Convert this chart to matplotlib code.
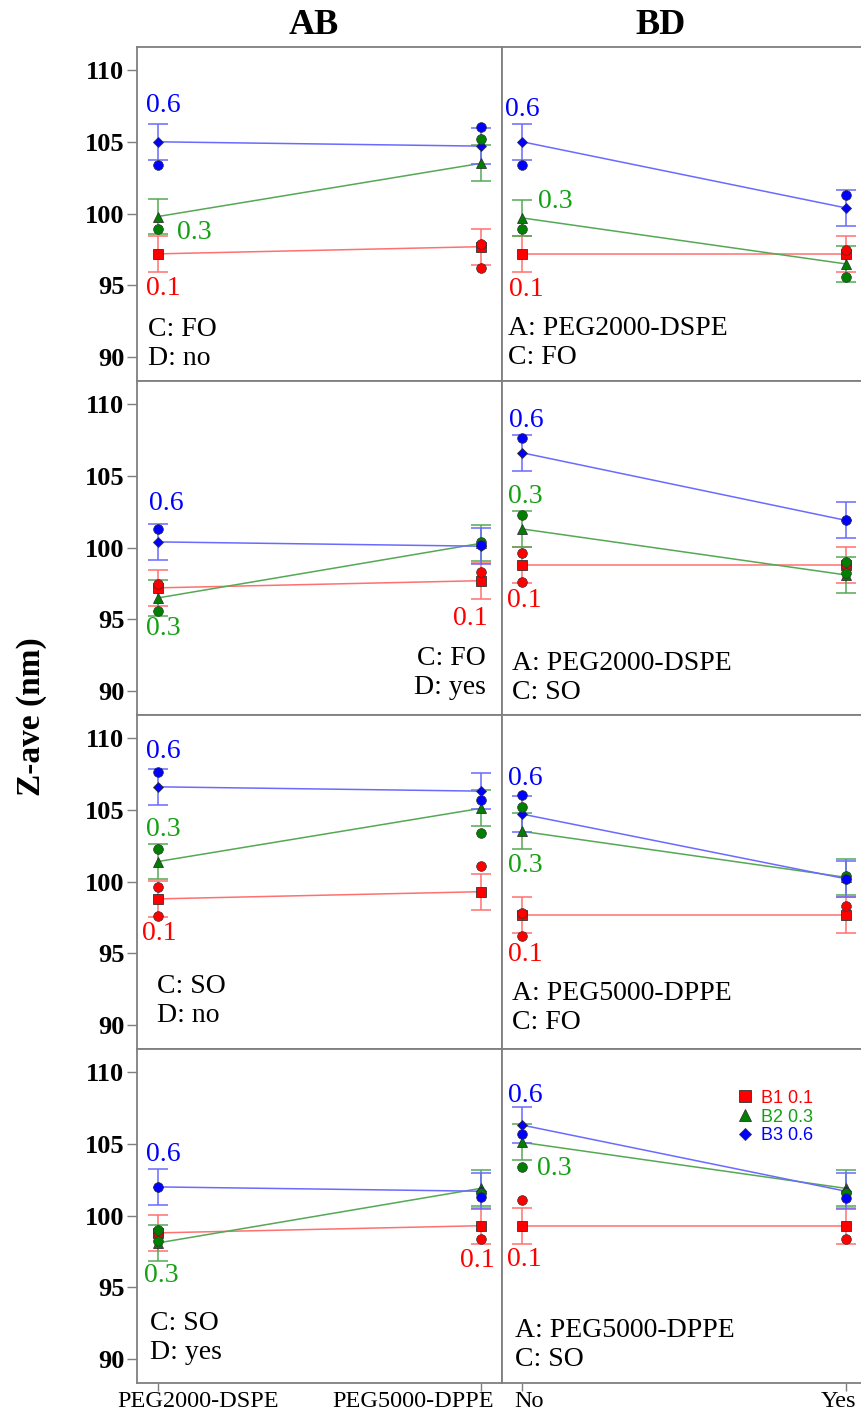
import matplotlib.pyplot as plt
from matplotlib.lines import Line2D
from matplotlib.transforms import ScaledTranslation

# levels of factor B
b_levels = ['0.1', '0.3', '0.6']
b_names = ['B1 0.1', 'B2 0.3', 'B3 0.6']
ab_ticks = ['PEG2000-DSPE', 'PEG5000-DPPE']
bd_ticks = ['No', 'Yes']

# predicted means: [B1, B2, B3] x [level 1, level 2]
ab_fo_no = [[97.2, 97.7], [99.8, 103.5], [105.0, 104.7]]
bd_peg2000_fo = [[97.2, 97.2], [99.7, 96.5], [105.0, 100.4]]
ab_fo_yes = [[97.2, 97.7], [96.5, 100.3], [100.4, 100.1]]
bd_peg2000_so = [[98.8, 98.8], [101.3, 98.1], [106.6, 101.9]]
ab_so_no = [[98.8, 99.3], [101.4, 105.1], [106.6, 106.3]]
bd_peg5000_fo = [[97.7, 97.7], [103.5, 100.3], [104.7, 100.2]]
ab_so_yes = [[98.8, 99.3], [98.1, 101.9], [102.0, 101.7]]
bd_peg5000_so = [[99.3, 99.3], [105.1, 101.9], [106.3, 101.7]]

# design points: [B1, B2, B3] x ([level 1 values], [level 2 values])
pts_ab_fo_no = [([], [97.9, 96.2]), ([98.9], [105.2]), ([103.4], [106.0])]
pts_bd_peg2000_fo = [([], [97.5]), ([98.9], [95.6]), ([103.4], [101.3])]
pts_ab_fo_yes = [([97.5], [98.3]), ([95.6], [100.4]), ([101.3], [100.2])]
pts_bd_peg2000_so = [([99.6, 97.6], [98.8]), ([102.3], [99.0, 98.2]), ([107.6], [101.9])]
pts_ab_so_no = [([99.6, 97.6], [101.1]), ([102.3], [103.4]), ([107.6], [105.7])]
pts_bd_peg5000_fo = [([97.8, 96.2], [98.3]), ([105.2], [100.4]), ([106.0], [100.2])]
pts_ab_so_yes = [([98.8], [98.4]), ([99.0, 98.2], [101.6]), ([102.0], [101.3])]
pts_bd_peg5000_so = [([101.1], [98.4]), ([103.4], [101.6]), ([105.7], [101.2])]

lsd = 1.25

means = [ab_fo_no, bd_peg2000_fo, ab_fo_yes, bd_peg2000_so,
         ab_so_no, bd_peg5000_fo, ab_so_yes, bd_peg5000_so]
points = [pts_ab_fo_no, pts_bd_peg2000_fo, pts_ab_fo_yes, pts_bd_peg2000_so,
          pts_ab_so_no, pts_bd_peg5000_fo, pts_ab_so_yes, pts_bd_peg5000_so]
notes = ['C: FO\nD: no', 'A: PEG2000-DSPE\nC: FO',
         'C: FO\nD: yes', 'A: PEG2000-DSPE\nC: SO',
         'C: SO\nD: no', 'A: PEG5000-DPPE\nC: FO',
         'C: SO\nD: yes', 'A: PEG5000-DPPE\nC: SO']

# where the notes and level labels sit in each panel (layout only)
note_pos = [(-0.031, 90.95, 'left'), (-0.044, 91.0, 'left'),
            (1.016, 91.3, 'right'), (-0.033, 90.9, 'left'),
            (-0.003, 91.7, 'left'), (-0.033, 91.2, 'left'),
            (-0.025, 91.5, 'left'), (-0.023, 91.0, 'left')]
label_pos = [
    [(0.016, 94.8), (0.112, 98.7), (0.016, 107.5)],
    [(0.011, 94.75), (0.101, 100.85), (0.001, 107.25)],
    [(0.969, 95.05), (0.016, 94.4), (0.027, 103.05)],
    [(0.005, 96.3), (0.008, 103.55), (0.011, 108.85)],
    [(0.004, 96.4), (0.016, 103.6), (0.015, 109.05)],
    [(0.008, 94.9), (0.008, 101.15), (0.008, 107.15)],
    [(0.991, 96.9), (0.009, 95.8), (0.016, 104.25)],
    [(0.005, 96.95), (0.098, 103.25), (0.008, 108.35)],
]
# shift of the bottom tick labels, pixels
ab_shift = [40, -68]
bd_shift = [7, -7]

colors = ['#ff0000', '#008000', '#0000ff']
line_colors = ['#ff7070', '#55a855', '#6a6aff']
text_colors = ['#ff0000', '#14a014', '#0000ff']
mean_markers = ['s', '^', 'D']
mean_sizes = [7, 7, 5.5]

serif = ['Liberation Serif', 'DejaVu Serif']
frame = '#7f7f7f'

fig = plt.figure(figsize=(8.62, 14.16), dpi=100)

left_x, left_w = 137 / 862, 365 / 862
right_x, right_w = 502 / 862, 360 / 862
row_h = 334 / 1416
top = 1 - 47 / 1416

for i in range(8):
    row, col = divmod(i, 2)
    y0 = top - (row + 1) * row_h
    if col == 0:
        ax = fig.add_axes([left_x, y0, left_w, row_h])
        ax.set_xlim(-0.065, 1.066)
    else:
        ax = fig.add_axes([right_x, y0, right_w, row_h])
        ax.set_xlim(-0.063, 1.05)
    ax.set_ylim(88.35, 111.6)

    for k in range(3):
        m = means[i][k]
        ax.plot([0, 1], m, color=line_colors[k], lw=1.1, zorder=2)
        ax.errorbar([0, 1], m, yerr=lsd, fmt='none', ecolor=line_colors[k],
                    elinewidth=1.1, capsize=7, capthick=1.1, zorder=2)
        ax.plot([0, 1], m, linestyle='none', marker=mean_markers[k],
                ms=mean_sizes[k], mfc=colors[k], mec='#333333', mew=0.6, zorder=3)
        p0, p1 = points[i][k]
        xs = [0] * len(p0) + [1] * len(p1)
        ax.plot(xs, p0 + p1, linestyle='none', marker='o', ms=7,
                mfc=colors[k], mec='#333333', mew=0.5, zorder=4)
        lx, ly = label_pos[i][k]
        ax.text(lx, ly, b_levels[k], color=text_colors[k], fontsize=20,
                family=serif, ha='center', va='center')

    nx, ny, nha = note_pos[i]
    ax.text(nx, ny, notes[i], fontsize=20, family=serif, ha=nha, va='center',
            linespacing=1.2)

    for s in ax.spines.values():
        s.set_color(frame)
        s.set_linewidth(1.3)
    if col == 1:
        ax.spines['right'].set_visible(False)

    ax.set_yticks([90, 95, 100, 105, 110])
    if col == 0:
        ax.tick_params(axis='y', length=7, width=1, color=frame, pad=2)
        for t in ax.get_yticklabels():
            t.set_fontfamily(serif)
            t.set_fontweight('bold')
            t.set_fontsize(19)
    else:
        ax.tick_params(axis='y', left=False, labelleft=False)

    ax.set_xticks([0, 1])
    if row == 3:
        ax.set_xticklabels(ab_ticks if col == 0 else bd_ticks,
                           fontsize=17.5, family=serif)
        ax.tick_params(axis='x', length=6, width=1, color=frame, pad=0)
        shifts = ab_shift if col == 0 else bd_shift
        for t, dx in zip(ax.get_xticklabels(), shifts):
            t.set_transform(t.get_transform() +
                            ScaledTranslation(dx / 100, 0, fig.dpi_scale_trans))
    else:
        ax.tick_params(axis='x', bottom=False, labelbottom=False)

    if i == 7:
        handles = [Line2D([], [], linestyle='none', marker=mean_markers[k],
                          ms=mean_sizes[k] + 1, mfc=colors[k], mec='#333333',
                          mew=0.6) for k in range(3)]
        ax.legend(handles, b_names, loc='upper left', bbox_to_anchor=(0.62, 0.905),
                  frameon=False, prop={'family': 'Liberation Sans', 'size': 13},
                  labelcolor=text_colors, handletextpad=0.3, labelspacing=0.1,
                  borderpad=0, handlelength=1.2)

fig.text(314 / 862, 1 - 25 / 1416, 'AB', fontsize=26, fontweight='bold',
         family=serif, ha='center', va='center')
fig.text(661 / 862, 1 - 25 / 1416, 'BD', fontsize=26, fontweight='bold',
         family=serif, ha='center', va='center')
fig.text(32 / 862, 1 - 717 / 1416, 'Z-ave (nm)', fontsize=24, fontweight='bold',
         family=serif, rotation=90, ha='center', va='center')

plt.savefig('out.png', dpi=100)
